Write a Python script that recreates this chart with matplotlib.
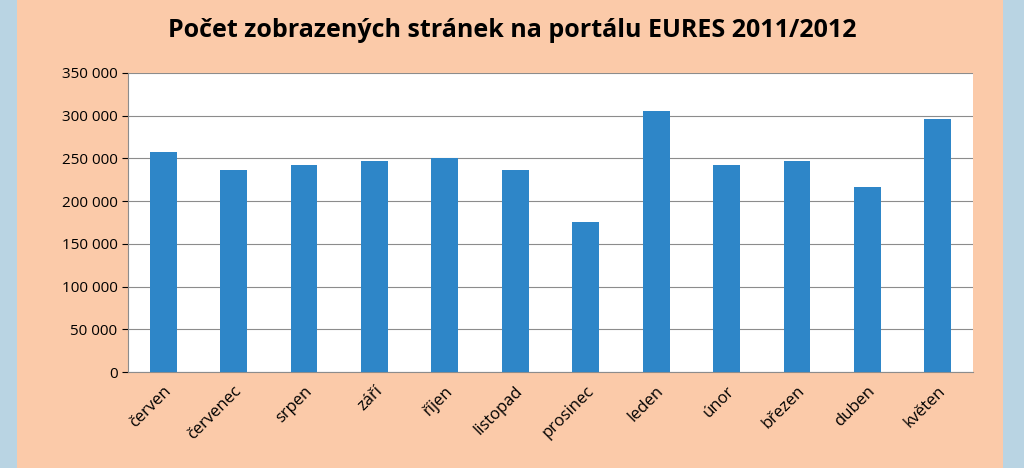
import matplotlib

matplotlib.use("Agg")
import matplotlib.pyplot as plt
from matplotlib.patches import Rectangle
from matplotlib.ticker import FuncFormatter

months = ["červen", "červenec", "srpen", "září", "říjen", "listopad",
          "prosinec", "leden", "únor", "březen", "duben", "květen"]
views = [258000, 236000, 242000, 247000, 251000, 236000,
         176000, 305000, 242000, 247000, 216000, 296000]

plt.rcParams["font.family"] = "Open Sans"

fig = plt.figure(figsize=(10.24, 4.68), dpi=100)
fig.patch.set_facecolor("#b9d4e3")
fig.patches.append(Rectangle((17 / 1024, 0), 986 / 1024, 1, transform=fig.transFigure,
                             facecolor="#fbcaa9", edgecolor="none", zorder=-5))

ax = fig.add_axes([128 / 1024, 1 - 372 / 468, 845 / 1024, 299 / 468])
ax.set_zorder(2)
ax.set_facecolor("white")
ax.bar(range(len(months)), views, width=0.38, color="#2e86c8", zorder=3)
ax.set_xlim(-0.5, len(months) - 0.5)
ax.set_ylim(0, 350000)
ax.set_yticks(range(0, 350001, 50000))
ax.yaxis.set_major_formatter(FuncFormatter(lambda v, _: f"{int(v):,}".replace(",", " ")))
ax.grid(axis="y", color="#8c8c8c", linewidth=0.8, zorder=0)
ax.set_xticks(range(len(months)))
ax.set_xticklabels(months, rotation=45, ha="right", rotation_mode="anchor", fontsize=12)
ax.tick_params(axis="y", labelsize=11, length=4)
ax.tick_params(axis="x", length=0, pad=8)
for s in ["top", "right"]:
    ax.spines[s].set_visible(False)
for s in ["left", "bottom"]:
    ax.spines[s].set_color("#8c8c8c")

fig.text(0.5, 0.935, "Počet zobrazených stránek na portálu EURES 2011/2012",
         ha="center", va="center", fontsize=18, fontweight="bold", zorder=5)

fig.savefig("out.png", dpi=100, facecolor=fig.get_facecolor())
